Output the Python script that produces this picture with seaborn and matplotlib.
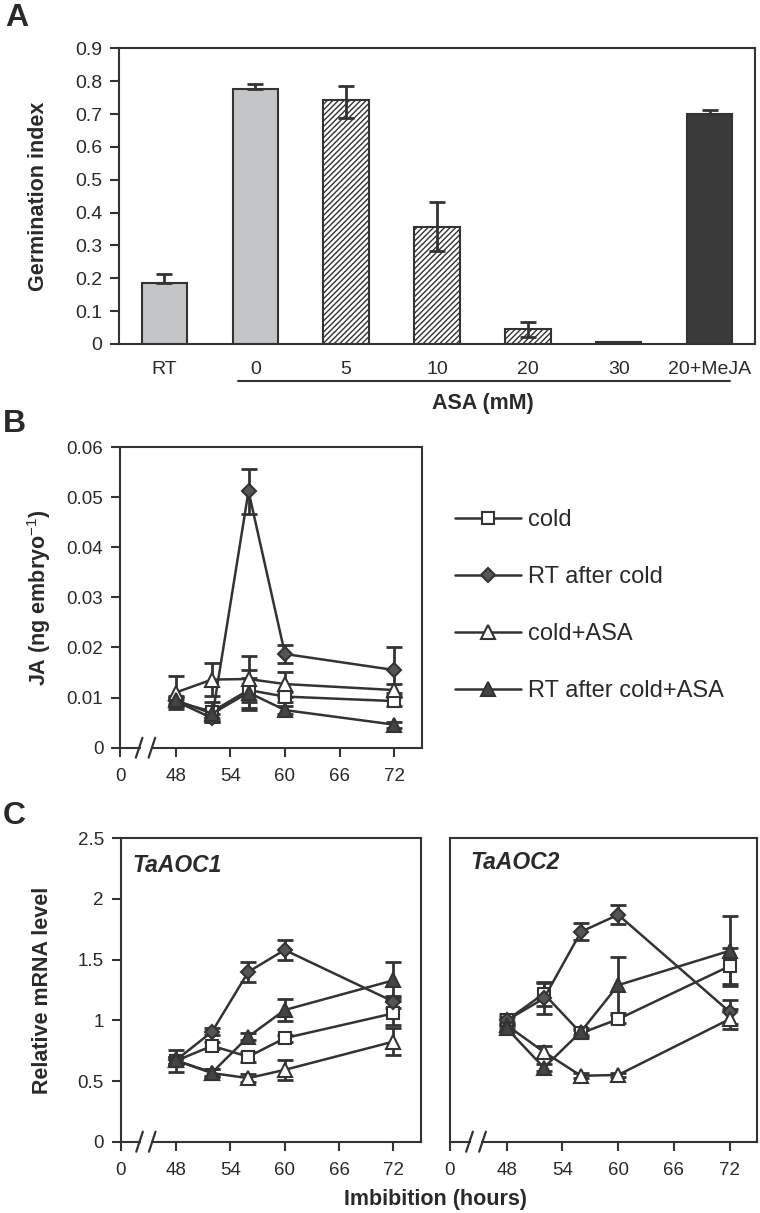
import numpy as np
import pandas as pd
import matplotlib
matplotlib.use("Agg")
import matplotlib.pyplot as plt
import matplotlib.transforms as mtransforms
import seaborn as sns

# ---------------- data ----------------
# Panel A
categories = ["RT", "0", "5", "10", "20", "30", "20+MeJA"]
germ_index = [0.185, 0.776, 0.742, 0.357, 0.045, 0.007, 0.699]
germ_err_low = [0.0, 0.0, 0.053, 0.075, 0.023, 0.0, 0.0]
germ_err_up = [0.028, 0.015, 0.043, 0.076, 0.021, 0.0, 0.013]
bar_colors = ["#c4c5c7", "#c4c5c7", "#ffffff", "#ffffff", "#ffffff", "#ffffff", "#3a3a3a"]
bar_hatches = ["", "", "//////", "//////", "//////", "//////", ""]

# Panel B / C common
hours = [48, 52, 56, 60, 72]
series_names = ["cold", "RT after cold", "cold+ASA", "RT after cold+ASA"]

# Panel B: JA (ng embryo-1)
ja_cold = [0.0092, 0.0072, 0.0115, 0.0102, 0.0093]
ja_rt = [0.0093, 0.0059, 0.0512, 0.0187, 0.0155]
ja_cold_asa = [0.0110, 0.0136, 0.0137, 0.0127, 0.0115]
ja_rt_asa = [0.0095, 0.0068, 0.0110, 0.0075, 0.0046]
ja_cold_err = [0.0008, 0.0020, 0.0040, 0.0010, 0.0010]
ja_rt_err = [0.0008, 0.0008, 0.0045, 0.0018, 0.0045]
ja_cold_asa_err = [0.0033, 0.0033, 0.0046, 0.0025, 0.0013]
ja_rt_asa_err = [0.0008, 0.0010, 0.0030, 0.0008, 0.0006]

# Panel C: TaAOC1
aoc1_cold = [0.666, 0.79, 0.70, 0.853, 1.058]
aoc1_rt = [0.67, 0.907, 1.40, 1.58, 1.154]
aoc1_cold_asa = [0.67, 0.565, 0.524, 0.592, 0.825]
aoc1_rt_asa = [0.67, 0.57, 0.866, 1.085, 1.33]
aoc1_cold_err = [0.09, 0.03, 0.04, 0.03, 0.10]
aoc1_rt_err = [0.03, 0.03, 0.08, 0.08, 0.05]
aoc1_cold_asa_err = [0.03, 0.03, 0.03, 0.08, 0.11]
aoc1_rt_asa_err = [0.03, 0.03, 0.03, 0.09, 0.15]

# Panel C: TaAOC2
aoc2_cold = [1.0, 1.22, 0.894, 1.01, 1.447]
aoc2_rt = [1.0, 1.18, 1.73, 1.87, 1.07]
aoc2_cold_asa = [0.96, 0.74, 0.543, 0.55, 1.01]
aoc2_rt_asa = [0.935, 0.61, 0.907, 1.29, 1.573]
aoc2_cold_err = [0.05, 0.10, 0.03, 0.03, 0.15]
aoc2_rt_err = [0.03, 0.13, 0.07, 0.08, 0.10]
aoc2_cold_asa_err = [0.03, 0.05, 0.02, 0.02, 0.08]
aoc2_rt_asa_err = [0.03, 0.03, 0.03, 0.23, 0.29]

# ---------------- style ----------------
sns.set_style("ticks")
plt.rcParams["font.family"] = ["Liberation Sans", "DejaVu Sans"]
plt.rcParams["mathtext.fontset"] = "custom"
plt.rcParams["mathtext.rm"] = "Liberation Sans"
plt.rcParams["mathtext.bf"] = "Liberation Sans:bold"
plt.rcParams["hatch.color"] = "#333333"
plt.rcParams["hatch.linewidth"] = 1.0

DARK = "#333333"
TXT = "#2a2a2a"
W, H = 760, 1213
fig = plt.figure(figsize=(W / 100, H / 100), dpi=100)


def ax_at(l, t, r, b):
    return fig.add_axes([l / W, 1 - b / H, (r - l) / W, (b - t) / H])


def style_axes(ax, tick_size):
    for s in ax.spines.values():
        s.set_color(DARK)
        s.set_linewidth(1.5)
        s.set_visible(True)
    ax.tick_params(axis="both", colors=DARK, width=1.5, length=6.5,
                   direction="out", labelsize=tick_size, labelcolor=TXT)
    ax.tick_params(axis="y", pad=5.5)


fmt = matplotlib.ticker.FuncFormatter(lambda v, p: f"{v:g}")

# ---------------- Panel A ----------------
axA = ax_at(119, 48.3, 755, 344)
dfA = pd.DataFrame({"cond": categories, "gi": germ_index})
sns.barplot(data=dfA, x="cond", y="gi", hue="cond", palette=bar_colors,
            width=0.5, edgecolor=DARK, linewidth=1.5, errorbar=None,
            legend=False, ax=axA, order=categories, hue_order=categories,
            saturation=1)
for patch, h in zip(axA.patches, bar_hatches):
    patch.set_hatch(h)
xpos = np.arange(len(categories))
axA.errorbar(xpos, germ_index, yerr=[germ_err_low, germ_err_up], fmt="none",
             ecolor=DARK, elinewidth=2, capsize=5.5, capthick=2, zorder=4)
axA.set_xlim(-0.5, len(categories) - 0.5)
axA.set_ylim(0, 0.9)
axA.set_yticks(np.arange(0, 0.91, 0.1))
axA.yaxis.set_major_formatter(fmt)
style_axes(axA, 14)
axA.tick_params(axis="x", length=0, pad=12)
axA.set_xlabel("")
axA.set_ylabel("Germination index", fontsize=15.5, fontweight="bold",
               color=TXT, labelpad=19)
trA = mtransforms.blended_transform_factory(axA.transData, axA.transAxes)
axA.plot([0.81, 6.22], [-0.124, -0.124], transform=trA, color=DARK,
         lw=1.5, clip_on=False)
axA.text(3.5, -0.2, "ASA (mM)", transform=trA, ha="center", va="center",
         fontsize=15.5, fontweight="bold", color=TXT)

# ---------------- line panels ----------------
XLIM = (41.9, 75.0)
styles = [
    dict(marker="s", markersize=9, markerfacecolor="white"),
    dict(marker="D", markersize=7, markerfacecolor="#555555"),
    dict(marker="^", markersize=10, markerfacecolor="white"),
    dict(marker="^", markersize=10, markerfacecolor="#444444"),
]


def line_panel(ax, data, errs, ymax, ystep, tick_size=13.5):
    for name, vals, err, st in zip(series_names, data, errs, styles):
        ax.errorbar(hours, vals, yerr=err, fmt="none", ecolor=DARK,
                    elinewidth=2, capsize=5.5, capthick=2, zorder=2)
    for name, vals, err, st in zip(series_names, data, errs, styles):
        sns.lineplot(x=hours, y=vals, ax=ax, color=DARK, linewidth=1.8,
                     markeredgecolor=DARK, markeredgewidth=1.5, label=name,
                     errorbar=None, zorder=3, **st)
    ax.set_xlim(*XLIM)
    ax.set_ylim(0, ymax)
    ax.set_yticks(np.arange(0, ymax + ystep / 2, ystep))
    ax.yaxis.set_major_formatter(fmt)
    ax.set_xticks([XLIM[0], 48, 54, 60, 66, 72])
    ax.set_xticklabels(["0", "48", "54", "60", "66", "72"])
    style_axes(ax, tick_size)
    ax.tick_params(axis="x", pad=8)
    # axis break marks
    tr = mtransforms.blended_transform_factory(ax.transData, ax.transAxes)
    b1, b2 = 44.0, 45.4
    ax.plot([b1 + 0.15, b2 - 0.15], [0, 0], transform=tr, color="white",
            lw=3, clip_on=False, zorder=5, solid_capstyle="butt")
    for b in (b1, b2):
        ax.plot([b - 0.36, b + 0.36], [-0.033, 0.033], transform=tr,
                color=DARK, lw=1.6, clip_on=False, zorder=6)


axB = ax_at(120, 447, 421.7, 747.7)
line_panel(axB, [ja_cold, ja_rt, ja_cold_asa, ja_rt_asa],
           [ja_cold_err, ja_rt_err, ja_cold_asa_err, ja_rt_asa_err], 0.06, 0.01)
handles, labels = axB.get_legend_handles_labels()
axB.get_legend().remove()
axB.set_ylabel("JA (ng embryo$^{-1}$)", fontsize=15.5, fontweight="bold",
               color=TXT, labelpad=10)

axC1 = ax_at(120.5, 838.3, 420.7, 1141.7)
line_panel(axC1, [aoc1_cold, aoc1_rt, aoc1_cold_asa, aoc1_rt_asa],
           [aoc1_cold_err, aoc1_rt_err, aoc1_cold_asa_err, aoc1_rt_asa_err], 2.5, 0.5)
axC1.get_legend().remove()
axC1.set_ylabel("Relative mRNA level", fontsize=15.5, fontweight="bold",
                color=TXT, labelpad=18)
axC1.text(0.04, 0.91, "TaAOC1", transform=axC1.transAxes, fontsize=16.5,
          fontweight="bold", fontstyle="italic", color=TXT, va="center")

axC2 = ax_at(450, 838.3, 757.5, 1141.7)
line_panel(axC2, [aoc2_cold, aoc2_rt, aoc2_cold_asa, aoc2_rt_asa],
           [aoc2_cold_err, aoc2_rt_err, aoc2_cold_asa_err, aoc2_rt_asa_err], 2.5, 0.5)
axC2.get_legend().remove()
axC2.set_yticks([])
axC2.set_ylabel("")
axC2.text(0.065, 0.92, "TaAOC2", transform=axC2.transAxes, fontsize=16.5,
          fontweight="bold", fontstyle="italic", color=TXT, va="center")

fig.text(436 / W, 1 - 1200 / H, "Imbibition (hours)", ha="center", va="center",
         fontsize=15.5, fontweight="bold", color=TXT)

# legend
fig.legend(handles, labels, loc="upper left",
           bbox_to_anchor=(455 / W, 1 - 509 / H), frameon=False, fontsize=17,
           handlelength=2.8, handletextpad=0.3, labelspacing=1.48,
           borderpad=0, borderaxespad=0, labelcolor=TXT)

# panel letters
for letter, (x, y) in zip("ABC", [(17, 18.5), (14, 424.5), (14, 815.5)]):
    fig.text(x / W, 1 - y / H, letter, ha="center", va="center",
             fontsize=23, fontweight="bold", color=TXT)

fig.savefig("out.png", dpi=100)
